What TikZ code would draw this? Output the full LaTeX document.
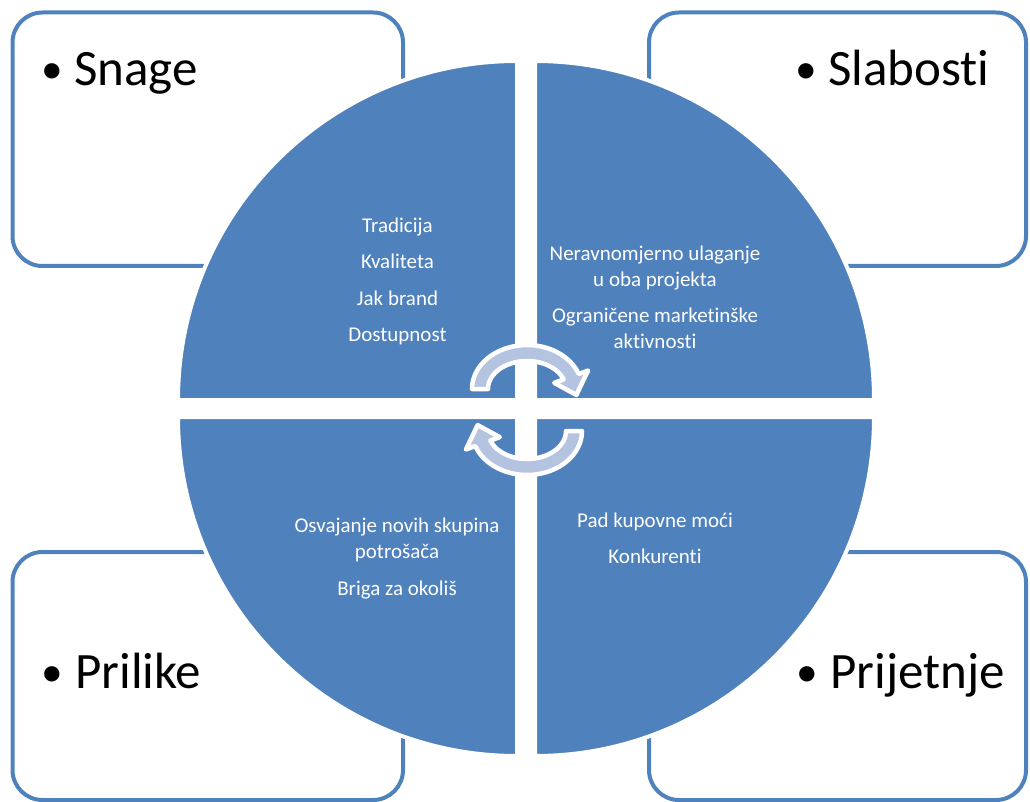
\documentclass[tikz,border=0pt]{standalone}
\usepackage{fontspec}
\setmainfont{Carlito}[Ligatures=NoCommon]
\definecolor{qblue}{HTML}{4F81BD}
\definecolor{arrfill}{HTML}{B3C3E0}
\begin{document}
\begin{tikzpicture}[x=1pt,y=-1pt,
  box/.style={draw=qblue, line width=4pt, rounded corners=30pt},
  quad/.style={fill=qblue, draw=white, line width=4pt},
  item/.style={text=white, font=\fontsize{21}{25.5}\selectfont, align=center, anchor=base, inner sep=0pt},
  title/.style={font=\fontsize{51}{60}\selectfont, anchor=base west, inner sep=0pt},
  cyc/.style={fill=arrfill, draw=white, line width=4.5pt, line join=round}]
\useasboundingbox (0,0) rectangle (1030,802);
% boxes
\draw[box] (12.5,12.5) rectangle (403,266);
\draw[box] (649,12.5) rectangle (1026,266);
\draw[box] (12.5,552) rectangle (403,800);
\draw[box] (649,552) rectangle (1026,800);
% quadrants
\draw[quad] (517,400) -- ++(-339,0) arc[start angle=180, end angle=270, radius=339] -- cycle;
\draw[quad] (535,400) -- ++(0,-339) arc[start angle=270, end angle=360, radius=339] -- cycle;
\draw[quad] (517,417) -- ++(-339,0) arc[start angle=180, end angle=90, radius=339] -- cycle;
\draw[quad] (535,417) -- ++(339,0) arc[start angle=0, end angle=90, radius=339] -- cycle;
% cycle arrows
\path[cyc] plot[domain=180:20, samples=40] ({527+55*cos(\x)},{389-44*sin(\x)})
  -- ({527+65*cos(20)},{389-54*sin(20)})
  -- ({527+50*cos(-9)},{389-38*sin(-9)})
  -- ({527+29*cos(20)},{389-18*sin(20)})
  -- plot[domain=20:180, samples=40] ({527+39*cos(\x)},{389-28*sin(\x)})
  -- cycle;
\begin{scope}[rotate around={180:(527,410)}]
\path[cyc] plot[domain=180:20, samples=40] ({527+55*cos(\x)},{389-44*sin(\x)})
  -- ({527+65*cos(20)},{389-54*sin(20)})
  -- ({527+50*cos(-9)},{389-38*sin(-9)})
  -- ({527+29*cos(20)},{389-18*sin(20)})
  -- plot[domain=20:180, samples=40] ({527+39*cos(\x)},{389-28*sin(\x)})
  -- cycle;
\end{scope}
% titles
\node[title] (snage) at (41,86) {\makebox[33pt][l]{\raisebox{2pt}{\scalebox{0.85}{•}}}Snage};
\node[title] (slabosti) at (795,86) {\makebox[33pt][l]{\raisebox{2pt}{\scalebox{0.85}{•}}}Slabosti};
\node[title] (prilike) at (41,688) {\makebox[34pt][l]{\raisebox{2pt}{\scalebox{0.85}{•}}}Prilike};
\node[title] (prijetnje) at (796,688) {\makebox[34pt][l]{\raisebox{2pt}{\scalebox{0.85}{•}}}Prijetnje};
% items
\node[item] (s1) at (397.5,232.7) {Tradicija};
\node[item] (s2) at (397.5,269) {Kvaliteta};
\node[item] (s3) at (397.5,305.3) {Jak brand};
\node[item] (s4) at (397.5,341.7) {Dostupnost};
\node[item] (w1) at (655,286.2) {Neravnomjerno ulaganje\\u oba projekta};
\node[item] (w2) at (655,348.2) {Ograničene marketinške\\aktivnosti};
\node[item] (o1) at (397,558.2) {Osvajanje novih skupina\\potrošača};
\node[item] (o2) at (397,595) {Briga za okoliš};
\node[item] (t1) at (655,527.7) {Pad kupovne moći};
\node[item] (t2) at (655,563.7) {Konkurenti};
\end{tikzpicture}
\end{document}
